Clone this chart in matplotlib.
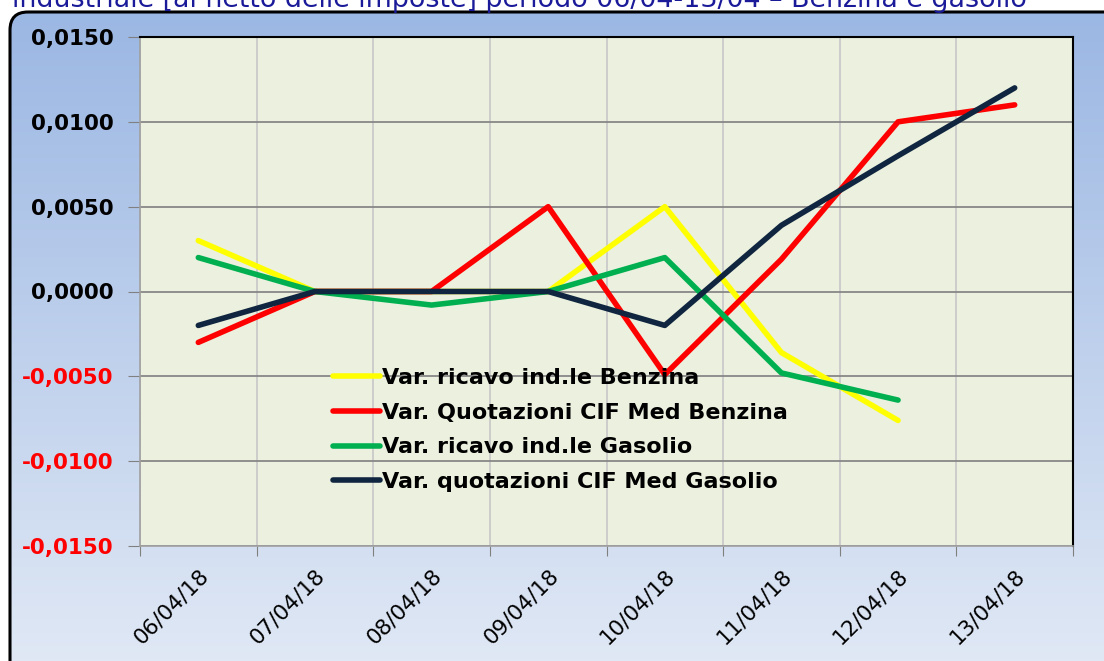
import numpy as np
import matplotlib
matplotlib.use("Agg")
import matplotlib.pyplot as plt
import matplotlib.transforms as mtransforms
from matplotlib.patches import FancyBboxPatch

date = ['06/04/18', '07/04/18', '08/04/18', '09/04/18',
        '10/04/18', '11/04/18', '12/04/18', '13/04/18']
ricavo_benzina = [0.0030, 0.0, 0.0, 0.0, 0.0050, -0.0036, -0.0076, np.nan]
quot_benzina = [-0.0030, 0.0, 0.0, 0.0050, -0.0049, 0.0019, 0.0100, 0.0110]
ricavo_gasolio = [0.0020, 0.0, -0.0008, 0.0, 0.0020, -0.0048, -0.0064, np.nan]
quot_gasolio = [-0.0020, 0.0, 0.0, 0.0, -0.0020, 0.0039, 0.0080, 0.0120]
y_ticks = [-0.015, -0.010, -0.005, 0.0, 0.005, 0.010, 0.015]

W, H = 1104, 661
fig = plt.figure(figsize=(W / 100, H / 100), dpi=100)
fig.patch.set_facecolor('white')

# sfondo con bordo arrotondato e sfumatura
bg = fig.add_axes([0, 0, 1, 1], zorder=0)
bg.axis('off')
grad = np.linspace(0, 1, 256).reshape(-1, 1)
top_c = np.array([0x9B, 0xB7, 0xE3]) / 255
bot_c = np.array([0xE4, 0xEB, 0xF6]) / 255
img = top_c + (bot_c - top_c) * grad[:, :, None]
im = bg.imshow(img, extent=[10, 1250, 700, 12], aspect='auto')
frame = FancyBboxPatch((10, 12), 1240, 700, boxstyle='round,pad=0,rounding_size=18',
                       transform=bg.transData, facecolor='none', edgecolor='black', lw=2.2)
bg.add_patch(frame)
im.set_clip_path(frame)
bg.set_xlim(0, W)
bg.set_ylim(H, 0)

# titolo tagliato in alto come nell'originale
fig.text(12 / W, 1 - 7 / H,
         'industriale [al netto delle imposte] periodo 06/04-13/04 \u2013 Benzina e gasolio',
         color='#1B1B9A', fontsize=19.4, va='baseline', ha='left')

ax = fig.add_axes([140 / W, 1 - 546 / H, (1073 - 140) / W, (546 - 37) / H], zorder=2)
ax.set_facecolor('#EBF1DE')
x = np.arange(len(date))

ax.plot(x, ricavo_benzina, color='#FFFF00', lw=4, label='Var. ricavo ind.le Benzina', solid_capstyle='round')
ax.plot(x, quot_benzina, color='#FF0000', lw=4, label='Var. Quotazioni CIF Med Benzina', solid_capstyle='round')
ax.plot(x, ricavo_gasolio, color='#00B050', lw=4, label='Var. ricavo ind.le Gasolio', solid_capstyle='round')
ax.plot(x, quot_gasolio, color='#10253F', lw=4, label='Var. quotazioni CIF Med Gasolio', solid_capstyle='round')

ax.set_xlim(-0.5, len(date) - 0.5)
ax.set_ylim(-0.015, 0.015)

ax.set_xticks(np.arange(-0.5, len(date)), labels=[])
ax.set_xticks(x, minor=True)
xl = ax.set_xticklabels(date, minor=True, rotation=45, ha='right', va='top',
                        rotation_mode='anchor', fontsize=15.5)
shift = mtransforms.ScaledTranslation(-11 / 100, 0, fig.dpi_scale_trans)
for t in xl:
    t.set_transform(t.get_transform() + shift)
ax.tick_params(axis='x', which='minor', length=0, pad=14)
ax.tick_params(axis='x', which='major', length=7, color='#808080', direction='out')
ax.xaxis.grid(True, which='major', color='#C8C8C8', lw=1.2)

ax.set_yticks(y_ticks)
labs = ax.set_yticklabels([('%.4f' % v).replace('.', ',').replace('-0,0000', '0,0000') for v in y_ticks],
                          fontsize=15.5, fontweight='bold')
for v, t in zip(y_ticks, labs):
    t.set_color('#FF0000' if v < 0 else 'black')
ax.tick_params(axis='y', length=9, color='#808080', direction='out', pad=10)
ax.yaxis.grid(True, color='#808080', lw=1.2)
ax.set_axisbelow(True)

for s in ['left', 'bottom']:
    ax.spines[s].set_color('#A0A0A0')
    ax.spines[s].set_linewidth(1.2)
for s in ['top', 'right']:
    ax.spines[s].set_color('black')
    ax.spines[s].set_linewidth(1.5)

leg = ax.legend(loc='upper left', bbox_to_anchor=((333 - 140) / 933, (546 - 368) / 509),
                frameon=False, prop={'weight': 'bold', 'size': 16},
                handlelength=2.1, handletextpad=0.12, labelspacing=0.66, borderpad=0,
                borderaxespad=0)

fig.savefig('out.png', dpi=100)
